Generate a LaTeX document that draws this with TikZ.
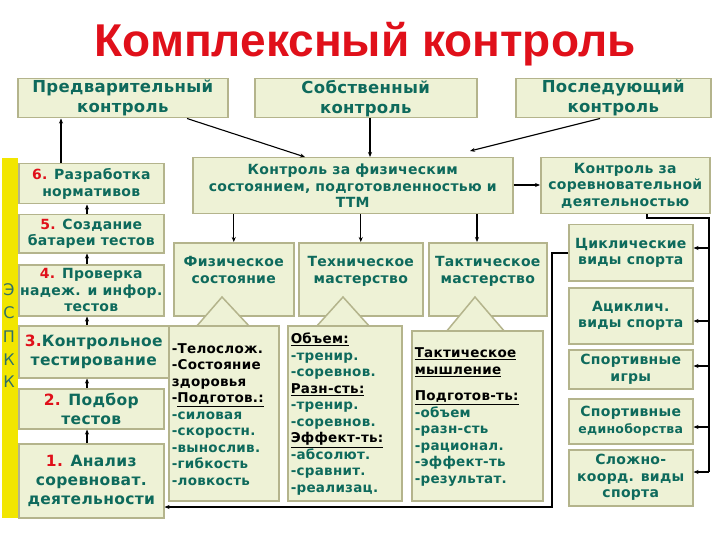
\documentclass[tikz,border=0pt]{standalone}
\usepackage{fontspec}
\setmainfont{DejaVu Sans}[LetterSpace=2]
\newfontfamily\titlefont{Liberation Sans}
\usetikzlibrary{arrows.meta}
\definecolor{boxc}{HTML}{EEF2D6}
\definecolor{bordc}{HTML}{B4B48C}
\definecolor{tealc}{HTML}{0E6A5C}
\definecolor{redc}{HTML}{E0101A}
\definecolor{stripc}{HTML}{F2E600}
\newcommand{\rn}[1]{\textcolor{redc}{#1}}
\begin{document}
\begin{tikzpicture}[x=1pt,y=-1pt,
  box/.style={draw=bordc,fill=boxc,line width=1.5pt,inner sep=0pt,anchor=north west,
    align=center,font=\bfseries\fontsize{14}{16.5}\selectfont,text=tealc},
  hbox/.style={box,font=\bfseries\fontsize{16.5}{20}\selectfont},
  lst/.style={box,align=left,font=\bfseries\fontsize{13.5}{16.5}\selectfont,text=tealc},
  con/.style={line width=1.1pt},
  arr/.style={con,-{Stealth[length=5pt,width=4pt]}},
  tri/.style={draw=bordc,fill=boxc,line width=1.5pt}]
\useasboundingbox (0,0) rectangle (720,540);
\fill[white] (0,0) rectangle (720,540);
\node[font=\titlefont\bfseries\fontsize{46}{50}\selectfont,text=redc] (title) at (365,44) {Комплексный контроль};
% top row
\node[hbox,minimum width=210pt,minimum height=39pt] (pre) at (17,78) {Предварительный\\контроль};
\node[hbox,minimum width=222pt,minimum height=39pt] (sob) at (254,78) {Собственный\\контроль};
\node[hbox,minimum width=195pt,minimum height=39pt] (pos) at (515,78) {Последующий\\контроль};
\node[box,minimum width=320pt,minimum height=56pt] (kf) at (192,157) {Контроль за физическим\\состоянием, подготовленностью и\\ТТМ};
\node[box,minimum width=169pt,minimum height=56pt] (ks) at (540,157) {Контроль за\\соревновательной\\деятельностью};
% strip
\node[draw=none,fill=stripc,minimum width=16pt,minimum height=360pt,anchor=north west,inner sep=0pt] (strip) at (2,158) {};
\foreach \l/\yy in {Э/290,С/313,П/337,К/360,К/382}
  \node[font=\fontsize{16}{16}\selectfont,text=tealc!70!gray] at (9,\yy) {\l};
% left column
\node[box,minimum width=145pt,minimum height=40pt] (b6) at (18,163) {\rn{6.} Разработка\\нормативов};
\node[box,minimum width=145pt,minimum height=38pt] (b5) at (18,214) {\rn{5.} Создание\\батареи тестов};
\node[box,minimum width=145pt,minimum height=51pt] (b4) at (18,264) {\rn{4.} Проверка\\надеж. и инфор.\\тестов};
\node[box,minimum width=150pt,minimum height=52pt,font=\bfseries\fontsize{15.5}{19}\selectfont] (b3) at (18,325) {\rn{3.}Контрольное\\тестирование};
\node[box,minimum width=145pt,minimum height=40pt,font=\bfseries\fontsize{15.5}{19}\selectfont] (b2) at (18,388) {\rn{2.} Подбор\\тестов};
\node[box,minimum width=145pt,minimum height=74pt,font=\bfseries\fontsize{15.5}{19}\selectfont] (b1) at (18,443) {\rn{1.} Анализ\\соревноват.\\деятельности};
% middle headers
\node[box,minimum width=120pt,minimum height=73pt] (fs) at (173,242) {Физическое\\состояние\\[2pt]};
\node[box,minimum width=124pt,minimum height=73pt] (tm) at (298,242) {Техническое\\мастерство\\[2pt]};
\node[box,minimum width=118pt,minimum height=73pt] (tk) at (428,242) {Тактическое\\мастерство\\[2pt]};
% callout triangles
\draw[tri] (196,327) -- (222,297) -- (250,327);
\draw[tri] (316,327) -- (343,297) -- (370,327);
\draw[tri] (446,332) -- (475,297) -- (505,332);
% content boxes
\node[lst,minimum width=108pt,minimum height=175pt,text width=104pt,inner xsep=3pt,inner ysep=0pt,anchor=north west] (c1) at (168,325)
{\vphantom{Ag}\\[-14pt]\textcolor{black}{-Телослож.}\\\textcolor{black}{-Состояние}\\\textcolor{black}{здоровья}\\\textcolor{black}{-\underline{Подготов.:}}\\-силовая\\-скоростн.\\-вынослив.\\-гибкость\\-ловкость\\[26pt]};
\node[lst,minimum width=112pt,minimum height=175pt,text width=108pt,inner xsep=3pt,inner ysep=0pt] (c2) at (287,325)
{\vphantom{Ag}\\[-14pt]\textcolor{black}{\underline{Объем:}}\\-тренир.\\-соревнов.\\\textcolor{black}{\underline{Разн-сть:}}\\-тренир.\\-соревнов.\\\textcolor{black}{\underline{Эффект-ть:}}\\-абсолют.\\-сравнит.\\-реализац.};
\node[lst,minimum width=129pt,minimum height=170pt,text width=125pt,inner xsep=3pt,inner ysep=0pt] (c3) at (411,330)
{\vphantom{Ag}\\[-14pt]\textcolor{black}{\underline{Тактическое}}\\\textcolor{black}{\underline{мышление}}\\[10pt]\textcolor{black}{\underline{Подготов-ть:}}\\-объем\\-разн-сть\\-рационал.\\-эффект-ть\\-результат.\\[40pt]};
% right column
\node[box,minimum width=124pt,minimum height=56pt] (r1) at (568,224) {Циклические\\виды спорта};
\node[box,minimum width=124pt,minimum height=56pt] (r2) at (568,287) {Ациклич.\\виды спорта};
\node[box,minimum width=124pt,minimum height=39pt] (r3) at (568,349) {Спортивные\\игры};
\node[box,minimum width=124pt,minimum height=45pt] (r4) at (568,398) {Спортивные\\{\fontsize{12.5}{15}\selectfont единоборства}};
\node[box,minimum width=124pt,minimum height=56pt] (r5) at (568,449) {Сложно-\\коорд. виды\\спорта};
% connectors top
\draw[arr] (pre.south -| 187,0) -- (kf.north -| 305,0);
\draw[arr] (sob.south -| 370,0) -- (kf.north -| 370,0);
\draw[arr] (pos.south -| 600,0) -- (470,151);
\draw[arr] (b6.north -| 61,0) -- (pre.south -| 61,0);
\draw[arr] (kf.east |- 0,185) -- (ks.west |- 0,185);
\draw[arr] (kf.south -| fs.north) -- (fs.north);
\draw[arr] (kf.south -| tm.north) -- (tm.north);
\draw[arr] (kf.south -| 477,0) -- (tk.north -| 477,0);
% left chain
\draw[arr] (b1.north -| 87,0) -- (b2.south -| 87,0);
\draw[arr] (b2.north -| 87,0) -- (b3.south -| 87,0);
\draw[arr] (b3.north -| 87,0) -- (b4.south -| 87,0);
\draw[arr] (b4.north -| 87,0) -- (b5.south -| 87,0);
\draw[arr] (b5.north -| 87,0) -- (b6.south -| 87,0);
% right bracket
\coordinate (rb) at (709,218);
\draw[con] (ks.south -| 647,0) |- (rb) -- (709,472);
\foreach \r/\yy in {r1/248,r2/321,r3/366,r4/427,r5/472}
  \draw[arr] (709,\yy) -- (\r.east |- 0,\yy);
% bottom loop
\draw[arr] (r1.west |- 0,253) -- (552,253) |- (b1.east |- 0,507);
\end{tikzpicture}
\end{document}
